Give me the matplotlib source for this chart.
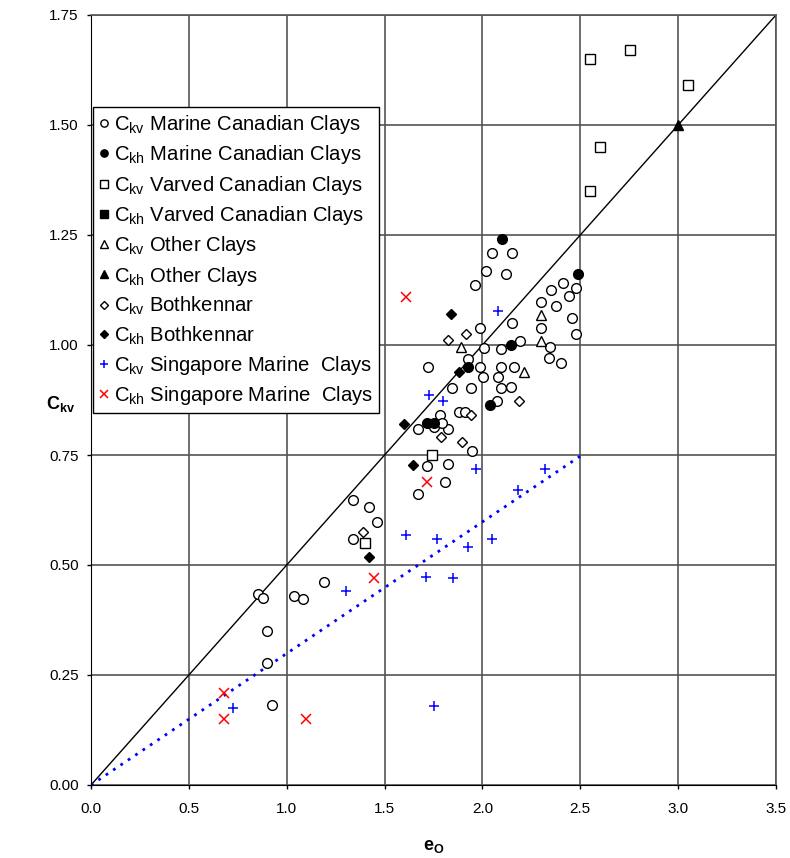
import matplotlib
matplotlib.use("Agg")
import matplotlib.pyplot as plt
import numpy as np

plt.rcParams['font.family'] = ['Liberation Sans', 'DejaVu Sans']
plt.rcParams['mathtext.fontset'] = 'custom'
plt.rcParams['mathtext.rm'] = 'Liberation Sans'
plt.rcParams['mathtext.it'] = 'Liberation Sans:italic'
plt.rcParams['mathtext.bf'] = 'Liberation Sans:bold'

# ---- data (e0, C) ----
marine_kv_x = [0.853, 0.879, 0.90, 0.90, 0.925, 1.037, 1.083, 1.19, 1.339, 1.42, 1.46, 1.339,
               1.671, 1.717, 1.81, 1.824, 1.947, 1.671, 1.753, 1.824, 1.783, 1.795, 1.88, 1.91, 1.72,
               2.075, 1.845, 1.94, 2.095, 2.146, 2.003, 2.08, 1.988, 2.095, 2.16, 1.926, 2.008, 2.095,
               2.19, 1.988, 2.15, 1.962, 2.018, 2.12, 2.05, 2.15,
               2.41, 2.35, 2.48, 2.44, 2.30, 2.376, 2.46, 2.30, 2.48, 2.345, 2.34, 2.40]
marine_kv_y = [0.434, 0.425, 0.35, 0.277, 0.182, 0.43, 0.423, 0.461, 0.648, 0.632, 0.598, 0.559,
               0.661, 0.725, 0.689, 0.73, 0.759, 0.809, 0.814, 0.809, 0.841, 0.823, 0.848, 0.848, 0.95,
               0.873, 0.902, 0.902, 0.902, 0.905, 0.927, 0.927, 0.95, 0.95, 0.95, 0.968, 0.993, 0.991,
               1.009, 1.039, 1.05, 1.136, 1.168, 1.161, 1.209, 1.209,
               1.14, 1.125, 1.13, 1.111, 1.098, 1.089, 1.061, 1.039, 1.025, 0.995, 0.97, 0.959]

marine_kh_x = [2.10, 2.49, 2.146, 1.926, 2.04, 1.717, 1.753]
marine_kh_y = [1.241, 1.161, 1.0, 0.95, 0.864, 0.823, 0.823]

varved_kv_x = [2.55, 2.754, 3.05, 2.60, 2.55, 1.74, 1.40]
varved_kv_y = [1.65, 1.67, 1.59, 1.45, 1.35, 0.75, 0.55]

varved_kh_x = []
varved_kh_y = []

other_kv_x = [1.89, 2.30, 2.30, 2.21]
other_kv_y = [0.995, 1.068, 1.009, 0.939]

other_kh_x = [3.0]
other_kh_y = [1.50]

both_kv_x = [1.824, 1.916, 1.94, 1.79, 1.895, 2.187, 1.39]
both_kv_y = [1.011, 1.025, 0.841, 0.79, 0.78, 0.873, 0.575]

both_kh_x = [1.84, 1.88, 1.60, 1.646, 1.42]
both_kh_y = [1.07, 0.939, 0.82, 0.727, 0.518]

sing_kv_x = [0.726, 1.303, 1.61, 1.768, 1.926, 2.05, 1.712, 1.85, 1.753, 1.967, 2.32, 2.18, 1.728, 1.80, 2.08]
sing_kv_y = [0.175, 0.441, 0.568, 0.559, 0.541, 0.559, 0.473, 0.47, 0.18, 0.718, 0.718, 0.67, 0.886, 0.873, 1.077]

sing_kh_x = [0.68, 0.68, 1.099, 1.446, 1.717, 1.61]
sing_kh_y = [0.209, 0.15, 0.15, 0.47, 0.689, 1.109]

trend_slope = 0.299
trend_xmax = 2.5
line_slope = 0.5

xticks = [0.0, 0.5, 1.0, 1.5, 2.0, 2.5, 3.0, 3.5]
yticks = [0.0, 0.25, 0.5, 0.75, 1.0, 1.25, 1.5, 1.75]

fig = plt.figure(figsize=(7.9, 8.58), dpi=100)
ax = fig.add_axes([91/790, 1-785/858, (776-91)/790, (785-15)/858])

ax.set_xlim(0, 3.5)
ax.set_ylim(0, 1.75)
ax.set_xticks(xticks)
ax.set_yticks(yticks)
ax.set_xticklabels([f"{v:.1f}" for v in xticks], fontsize=11)
ax.set_yticklabels([f"{v:.2f}" for v in yticks], fontsize=11)
ax.tick_params(axis='both', length=3, width=1)
ax.tick_params(axis='x', pad=9)
ax.tick_params(axis='y', pad=6)
ax.grid(True, color='#555555', lw=1.2, zorder=0)
ax.set_axisbelow(True)
for s in ['top', 'right']:
    ax.spines[s].set_color('#555555')
    ax.spines[s].set_linewidth(1.2)
for s in ['left', 'bottom']:
    ax.spines[s].set_color('black')

# 1:1 line  (C = e0/2)
xl = np.array([0, 3.5])
ax.plot(xl, line_slope * xl, color='black', lw=1.0, zorder=2)
# trend line
xt = np.array([0, trend_xmax])
ax.plot(xt, trend_slope * xt, color='blue', lw=2.0, dashes=(1.0, 2.2), zorder=2)

ms = 7
common = dict(linestyle='none', zorder=3)
ax.plot(marine_kv_x, marine_kv_y, 'o', ms=ms, mfc='white', mec='black', mew=1.0,
        label=r'$\mathrm{C_{kv}}$ Marine Canadian Clays', **common)
ax.plot(marine_kh_x, marine_kh_y, 'o', ms=ms, mfc='black', mec='black', mew=1.0,
        label=r'$\mathrm{C_{kh}}$ Marine Canadian Clays', **common)
ax.plot(varved_kv_x, varved_kv_y, 's', ms=ms, mfc='white', mec='black', mew=1.0,
        label=r'$\mathrm{C_{kv}}$ Varved Canadian Clays', **common)
ax.plot(varved_kh_x, varved_kh_y, 's', ms=ms, mfc='black', mec='black', mew=1.0,
        label=r'$\mathrm{C_{kh}}$ Varved Canadian Clays', **common)
ax.plot(other_kv_x, other_kv_y, '^', ms=ms, mfc='white', mec='black', mew=1.0,
        label=r'$\mathrm{C_{kv}}$ Other Clays', **common)
ax.plot(other_kh_x, other_kh_y, '^', ms=ms, mfc='black', mec='black', mew=1.0,
        label=r'$\mathrm{C_{kh}}$ Other Clays', **common)
ax.plot(both_kv_x, both_kv_y, 'D', ms=5.5, mfc='white', mec='black', mew=1.0,
        label=r'$\mathrm{C_{kv}}$ Bothkennar', **common)
ax.plot(both_kh_x, both_kh_y, 'D', ms=5.5, mfc='black', mec='black', mew=1.0,
        label=r'$\mathrm{C_{kh}}$ Bothkennar', **common)
ax.plot(sing_kv_x, sing_kv_y, '+', ms=ms, color='blue', mew=1.1,
        label=r'$\mathrm{C_{kv}}$ Singapore Marine  Clays', **common)
ax.plot(sing_kh_x, sing_kh_y, 'x', ms=ms, color='red', mew=1.1,
        label=r'$\mathrm{C_{kh}}$ Singapore Marine  Clays', **common)

leg = ax.legend(loc='upper left', bbox_to_anchor=(0.003, 1 - (107-15)/770), fontsize=14.6,
                markerscale=0.75, handlelength=0.45, handletextpad=0.3, labelspacing=0.36,
                borderpad=0.3, borderaxespad=0, frameon=True, fancybox=False,
                edgecolor='black', framealpha=1)
leg.get_frame().set_linewidth(1.0)

ax.set_xlabel(r'$\mathbf{e_{O}}$', fontsize=13, labelpad=16)
ax.set_ylabel(r'$\mathbf{C_{kv}}$', fontsize=13, rotation=0, labelpad=18)
ax.yaxis.set_label_coords(-0.045, 0.482)

fig.savefig('out.png', dpi=100)
